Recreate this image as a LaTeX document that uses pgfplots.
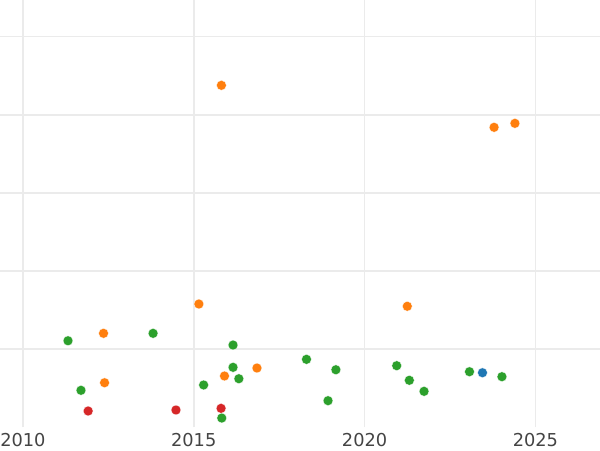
\documentclass[border=0pt]{standalone}
\usepackage{pgfplots}
\pgfplotsset{compat=1.18}
\usepackage{fontspec}
\setmainfont{DejaVu Sans}
\definecolor{tabblue}{HTML}{1F77B4}
\definecolor{taborange}{HTML}{FF7F0E}
\definecolor{tabgreen}{HTML}{2CA02C}
\definecolor{tabred}{HTML}{D62728}
\definecolor{gridgrey}{HTML}{EBEBEB}
\definecolor{ticktext}{HTML}{444444}

\begin{document}
\begin{tikzpicture}
\begin{axis}[
    scale only axis,
    width=425.2pt,
    height=302.9pt,
    xmin=2009.33, xmax=2026.89,
    ymin=0, ymax=5.469,
    xtick={2010,2015,2020,2025},
    ytick={1,2,3,4,5},
    yticklabels={},
    major tick length=0pt,
    axis line style={draw=none},
    grid=major,
    major grid style={gridgrey, line width=1.1pt},
    xticklabel style={font=\fontsize{12.6}{14}\selectfont, text=ticktext,
        inner sep=0pt, anchor=north, yshift=-4.3pt},
    /pgf/number format/assume math mode=true,
    /pgf/number format/1000 sep={},
    clip=false,
]

% red
\addplot[only marks, mark=*, mark size=3.5pt, mark options={fill=tabred, draw=white, line width=0.2pt}] coordinates {
    (2011.91, 0.210) (2014.48, 0.223) (2015.80, 0.244)
};

% green
\addplot[only marks, mark=*, mark size=3.5pt, mark options={fill=tabgreen, draw=white, line width=0.2pt}] coordinates {
    (2011.32, 1.109) (2013.81, 1.204) (2016.15, 1.054) (2016.15, 0.769)
    (2016.32, 0.623) (2015.29, 0.543) (2011.70, 0.475) (2015.82, 0.120)
    (2018.30, 0.871) (2019.16, 0.738) (2018.93, 0.342) (2020.94, 0.790)
    (2021.31, 0.603) (2021.74, 0.462) (2023.07, 0.713) (2024.02, 0.649)
};

% orange
\addplot[only marks, mark=*, mark size=3.5pt, mark options={fill=taborange, draw=white, line width=0.2pt}] coordinates {
    (2015.81, 4.377) (2023.79, 3.840) (2024.40, 3.891) (2015.15, 1.579)
    (2021.25, 1.550) (2012.36, 1.204) (2012.39, 0.572) (2015.90, 0.658)
    (2016.85, 0.760)
};

% blue
\addplot[only marks, mark=*, mark size=3.5pt, mark options={fill=tabblue, draw=white, line width=0.2pt}] coordinates {
    (2023.45, 0.700)
};

\end{axis}
\pgfresetboundingbox
\path (current axis.north west) rectangle ([yshift=-16pt]current axis.south east);
\end{tikzpicture}
\end{document}
